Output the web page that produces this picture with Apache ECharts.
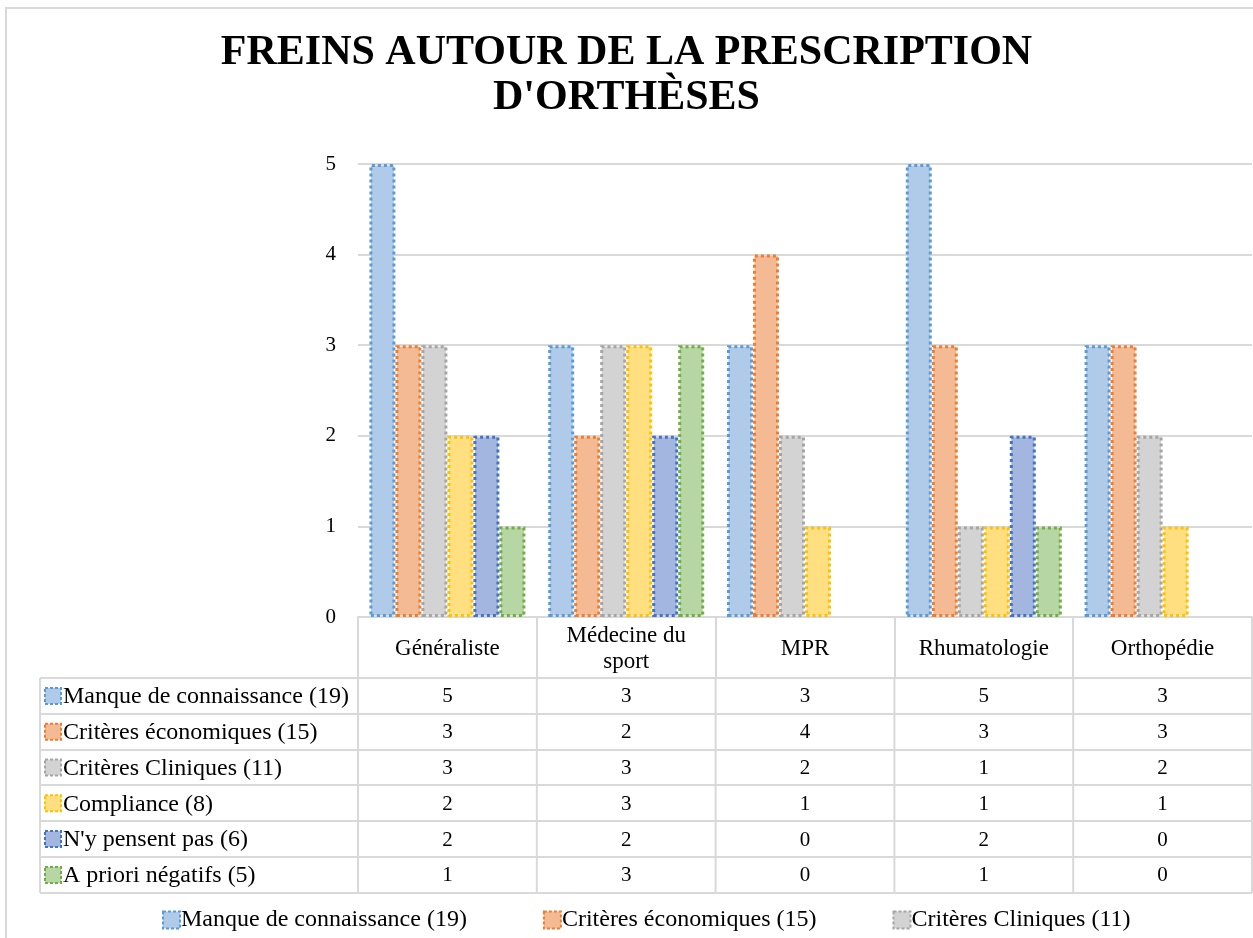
<!DOCTYPE html>
<html>
<head>
<meta charset="utf-8">
<script src="https://cdn.jsdelivr.net/npm/echarts@6/dist/echarts.min.js"></script>
<style>
  html, body { margin: 0; padding: 0; background: #fff; }
  #container { width: 1253px; height: 938px; }
</style>
</head>
<body>
<div id="container"></div>
<script>
var categories = ["Généraliste", "Médecine du sport", "MPR", "Rhumatologie", "Orthopédie"];
var seriesNames = [
  "Manque de connaissance (19)",
  "Critères économiques (15)",
  "Critères Cliniques (11)",
  "Compliance (8)",
  "N'y pensent pas (6)",
  "A priori négatifs (5)"
];
var manque = [5, 3, 3, 5, 3];
var economiques = [3, 2, 4, 3, 3];
var cliniques = [3, 3, 2, 1, 2];
var compliance = [2, 3, 1, 1, 1];
var pensentPas = [2, 2, 0, 2, 0];
var aPriori = [1, 3, 0, 1, 0];
var yTicks = [0, 1, 2, 3, 4, 5];

var values = [manque, economiques, cliniques, compliance, pensentPas, aPriori];
var lineColors = ["#5B9BD5", "#ED7D31", "#A5A5A5", "#FFC000", "#4472C4", "#70AD47"];
var fillColors = ["#AFCBE9", "#F4BA94", "#D3D3D3", "#FFDF80", "#A2B6E0", "#B6D6A3"];

var dom = document.getElementById("container");
var myChart = echarts.init(dom);

// layout of the plot + data table
var gridLeft = 358;
var gridRight = 1252;
var axisY = 617;
var headerBottom = 678;
var rowH = 35.8;
var tableLeft = 40;
var font = "Liberation Serif";
var gray = "#D9D9D9";

var seriesData = values.map(function (arr, i) {
  return {
    name: seriesNames[i],
    type: "bar",
    barWidth: 26,
    barGap: "0%",
    data: arr.map(function (v) { return v === 0 ? null : v; }),
    itemStyle: {
      color: fillColors[i],
      borderColor: lineColors[i],
      borderWidth: 3,
      borderType: [3, 3]
    },
    emphasis: { disabled: true }
  };
});

function buildTable() {
  var els = [];
  var colW = (gridRight - gridLeft) / categories.length;
  var bottom = headerBottom + rowH * seriesNames.length;
  // horizontal lines
  for (var r = 0; r <= seriesNames.length; r++) {
    var y = Math.round(headerBottom + r * rowH);
    els.push({
      type: "line",
      shape: { x1: tableLeft, y1: y, x2: gridRight, y2: y },
      style: { stroke: gray, lineWidth: 2 }
    });
  }
  // vertical lines
  var xs = [tableLeft];
  for (var c = 0; c <= categories.length; c++) xs.push(gridLeft + c * colW);
  xs.forEach(function (x) {
    els.push({
      type: "line",
      shape: { x1: x, y1: headerBottom, x2: x, y2: bottom },
      style: { stroke: gray, lineWidth: 2 }
    });
  });
  // rows
  seriesNames.forEach(function (name, i) {
    var cy = headerBottom + (i + 0.5) * rowH;
    els.push({
      type: "rect",
      shape: { x: 45, y: cy - 8, width: 16, height: 16 },
      style: { fill: fillColors[i], stroke: lineColors[i], lineWidth: 2, lineDash: [3, 2] }
    });
    els.push({
      type: "text",
      x: 63, y: cy + 1,
      style: { text: name, font: "24px " + font, fill: "#000", verticalAlign: "middle" }
    });
    values[i].forEach(function (v, j) {
      els.push({
        type: "text",
        x: gridLeft + (j + 0.5) * colW, y: cy + 1,
        style: { text: String(v), font: "21px " + font, fill: "#000", align: "center", verticalAlign: "middle" }
      });
    });
  });
  // outer frame
  els.push({
    type: "rect",
    shape: { x: 6, y: 8, width: 1270, height: 960 },
    style: { fill: null, stroke: gray, lineWidth: 2 }
  });
  return els;
}

var option = {
  backgroundColor: "#fff",
  animation: false,
  title: {
    text: "FREINS AUTOUR DE LA PRESCRIPTION\nD'ORTHÈSES",
    left: "center",
    top: 26,
    textStyle: {
      fontFamily: font,
      fontWeight: "bold",
      fontSize: 42,
      lineHeight: 45,
      color: "#000"
    }
  },
  legend: {
    data: seriesNames.slice(0, 3),
    left: 157,
    top: 903,
    itemWidth: 17,
    itemHeight: 17,
    itemGap: 76,
    icon: "rect",
    itemStyle: { borderWidth: 2, borderType: [3, 2] },
    textStyle: { fontFamily: font, fontSize: 24, color: "#000", padding: [0, 0, 0, -4] },
    selectedMode: false
  },
  grid: {
    left: gridLeft,
    right: 1253 - gridRight,
    top: 164,
    bottom: 938 - axisY,
    containLabel: false
  },
  xAxis: {
    type: "category",
    data: categories,
    axisLine: { show: true, lineStyle: { color: gray, width: 2 } },
    axisTick: { show: true, length: headerBottom - axisY, interval: 0, lineStyle: { color: gray, width: 2 } },
    axisLabel: {
      interval: 0,
      margin: 32,
      verticalAlign: "middle",
      lineHeight: 26,
      fontFamily: font,
      fontSize: 23,
      color: "#000",
      formatter: function (v) { return v.replace(" du ", " du\n"); }
    }
  },
  yAxis: {
    type: "value",
    min: yTicks[0],
    max: yTicks[yTicks.length - 1],
    interval: 1,
    axisLine: { show: false },
    axisTick: { show: false },
    splitLine: { lineStyle: { color: gray, width: 2 } },
    axisLabel: { margin: 22, fontFamily: font, fontSize: 21, color: "#000" }
  },
  graphic: buildTable(),
  series: seriesData
};

myChart.setOption(option);
</script>
</body>
</html>
